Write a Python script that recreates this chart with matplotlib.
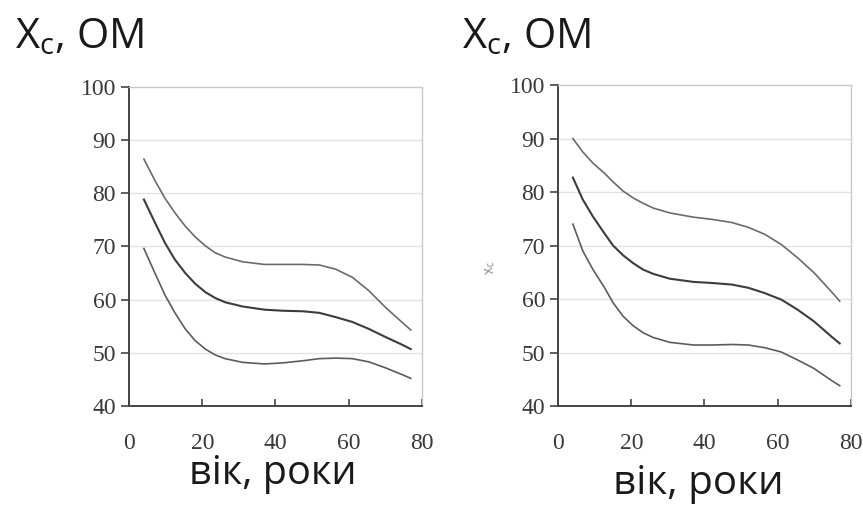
import matplotlib.pyplot as plt

plt.rcParams['font.family'] = ['Open Sans', 'DejaVu Sans']
plt.rcParams['mathtext.fontset'] = 'custom'
plt.rcParams['mathtext.rm'] = 'Open Sans'
plt.rcParams['mathtext.it'] = 'Open Sans'

# age, years (left panel)
age_left = [4, 7, 9.8, 12.5, 15.3, 18, 20.8, 23.5, 26.2, 31, 37, 42, 47.5, 52, 56.5, 61, 65.5, 70, 75, 77]
left_upper = [86.4, 82.4, 79.0, 76.3, 73.8, 71.8, 70.1, 68.8, 68.0, 67.1, 66.6, 66.6, 66.6, 66.5,
              65.7, 64.2, 61.7, 58.6, 55.5, 54.3]
left_mean = [78.8, 74.5, 70.6, 67.5, 65.0, 63.0, 61.4, 60.3, 59.5, 58.7, 58.1, 57.9, 57.8, 57.5,
             56.7, 55.8, 54.5, 53.0, 51.4, 50.7]
left_lower = [69.6, 65.0, 60.8, 57.5, 54.5, 52.3, 50.7, 49.6, 48.9, 48.2, 47.9, 48.1, 48.5, 48.9,
              49.0, 48.9, 48.3, 47.2, 45.8, 45.2]

# age, years (right panel)
age_right = [4, 6.7, 9.5, 12.5, 15, 17.7, 20.5, 23.2, 26, 30.5, 37, 42, 47.5, 52, 56.5, 61, 65.5, 70, 74.7, 77]
right_upper = [90.0, 87.5, 85.4, 83.6, 81.9, 80.2, 78.9, 77.9, 77.0, 76.1, 75.3, 74.9, 74.3, 73.4,
               72.1, 70.2, 67.7, 64.9, 61.4, 59.6]
right_mean = [82.7, 78.6, 75.4, 72.4, 70.0, 68.2, 66.7, 65.5, 64.7, 63.8, 63.2, 63.0, 62.7, 62.1,
              61.1, 59.9, 58.0, 55.8, 53.0, 51.7]
right_lower = [74.0, 69.0, 65.5, 62.3, 59.3, 56.8, 55.0, 53.7, 52.8, 51.9, 51.4, 51.4, 51.5, 51.4,
               50.9, 50.1, 48.6, 47.0, 44.8, 43.8]

x_ticks = [0, 20, 40, 60, 80]
y_ticks = [40, 50, 60, 70, 80, 90, 100]

fig = plt.figure(figsize=(8.63, 5.11), dpi=100)
ax1 = fig.add_axes([0.1498, 0.2055, 0.3388, 0.6248])
ax2 = fig.add_axes([0.6469, 0.2055, 0.3388, 0.6280])


def style_axes(ax):
    ax.set_xlim(0, 80)
    ax.set_ylim(40, 100)
    ax.set_xticks(x_ticks)
    ax.set_yticks(y_ticks)
    for y in y_ticks[1:-1]:
        ax.axhline(y, color='#e2e2e2', lw=1.0, zorder=0)
    for side in ['left', 'bottom']:
        ax.spines[side].set_color('#444444')
        ax.spines[side].set_linewidth(1.4)
    for side in ['top', 'right']:
        ax.spines[side].set_color('#c8c8c8')
        ax.spines[side].set_linewidth(1.0)
    ax.tick_params(axis='y', direction='out', length=5.5, width=1.2, color='#444444',
                   pad=4, labelsize=17, labelcolor='#3a3a3a')
    ax.tick_params(axis='x', direction='in', length=5, width=1.2, color='#444444',
                   pad=19.5, labelsize=17, labelcolor='#3a3a3a')
    for lab in ax.get_xticklabels() + ax.get_yticklabels():
        lab.set_fontfamily('Liberation Serif')


def draw_curves(ax, age, upper, mean, lower):
    ax.plot(age, upper, color='#6a6a6a', lw=1.2)
    ax.plot(age, mean, color='#3c3c3c', lw=1.5)
    ax.plot(age, lower, color='#5c5c5c', lw=1.2)


style_axes(ax1)
style_axes(ax2)
draw_curves(ax1, age_left, left_upper, left_mean, left_lower)
draw_curves(ax2, age_right, right_upper, right_mean, right_lower)

# titles and axis captions
fig.text(0.017, 0.906, r'$\mathrm{X_c}$, OM', fontsize=30, color='#1a1a1a')
fig.text(0.535, 0.906, r'$\mathrm{X_c}$, OM', fontsize=30, color='#1a1a1a')
fig.text(0.316, 0.052, 'вік, роки', fontsize=28.5, color='#1a1a1a', ha='center')
fig.text(0.809, 0.033, 'вік, роки', fontsize=29, color='#1a1a1a', ha='center')

# faint leftover label on the right panel
fig.text(0.558, 0.47, r'$x_c$', fontsize=10, color='#8a8a8a', rotation=100)

fig.savefig('out.png', dpi=100)
